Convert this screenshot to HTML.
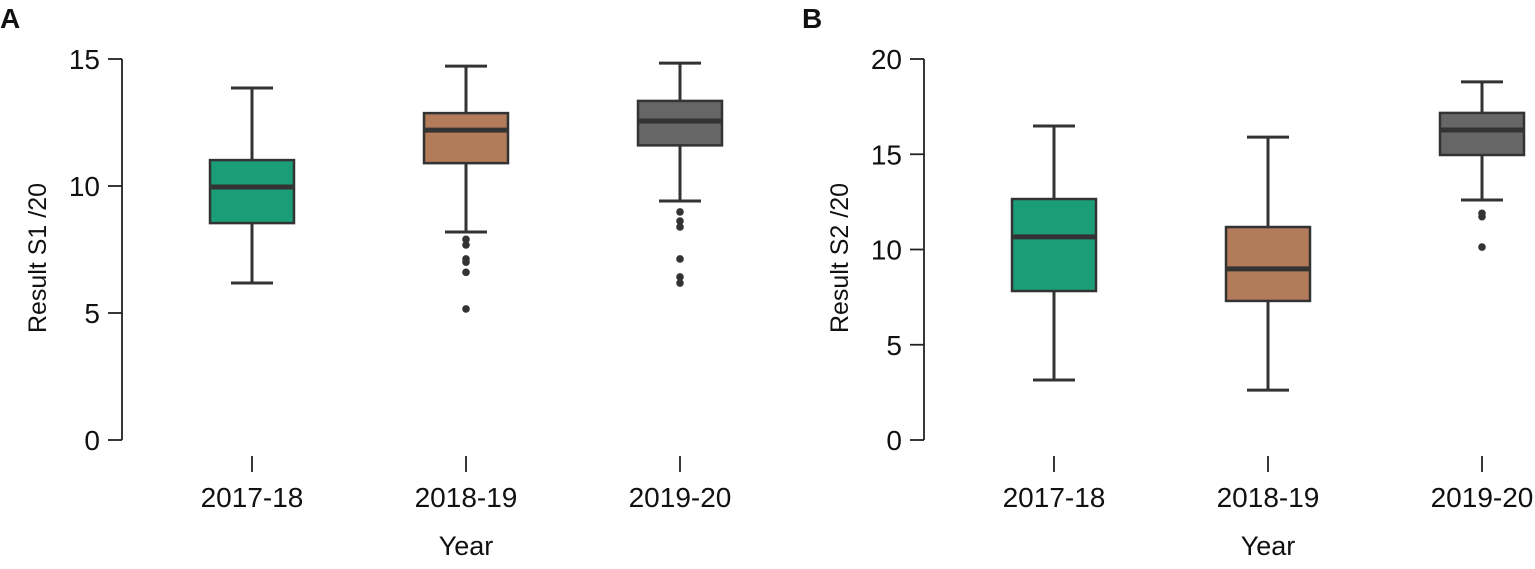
<!DOCTYPE html>
<html><head><meta charset="utf-8"><style>
body{margin:0;background:#fff;width:1535px;height:564px;overflow:hidden}
svg text{font-family:"Liberation Sans",Arial,sans-serif;fill:#111}
</style></head><body>
<svg id="c" width="1535" height="564" viewBox="0 0 1535 564"></svg>
<script>
const categories=["2017-18","2018-19","2019-20"];
const colors=["#1b9e77","#b27b59","#666666"];
const aStats=[[6.18,8.54,9.96,11.02,13.86],[8.19,10.9,12.2,12.87,14.72],[9.41,11.6,12.56,13.35,14.84]];
const aOut=[[],[7.9,7.68,7.13,7.0,6.6,5.16],[8.98,8.62,8.39,7.13,6.42,6.18]];
const aTicks=[0,5,10,15];
const bStats=[[3.15,7.82,10.66,12.65,16.48],[2.62,7.3,8.98,11.18,15.9],[12.6,14.96,16.27,17.17,18.8]];
const bOut=[[],[],[11.9,11.72,10.13]];
const bTicks=[0,5,10,15,20];
const NS="http://www.w3.org/2000/svg";
const svg=document.getElementById('c');
function mk(t,a,p){const e=document.createElementNS(NS,t);for(const k in a)e.setAttribute(k,a[k]);(p||svg).appendChild(e);return e;}
function panel(ox,max,stats,outs,ticks,letter,ytitle){
  const g=mk('g',{});
  
  
  const axX=ox, y=v=>440-v*(381/max), x=i=>ox+130+i*214;
  const ax=mk('line',{x1:axX,x2:axX,y1:y(0),y2:y(max),stroke:'#222','stroke-width':1.8},g);
  
  ticks.forEach(t=>{
    const l=mk('line',{x1:axX-14,x2:axX,y1:y(t),y2:y(t),stroke:'#222','stroke-width':1.8},g);
    
    const tx=mk('text',{x:axX-22,y:y(t)+10,'text-anchor':'end','font-size':28},g);tx.textContent=t;
    
  });
  categories.forEach((c,i)=>{
    const l=mk('line',{x1:x(i),x2:x(i),y1:456,y2:472,stroke:'#222','stroke-width':1.8},g);
    
    const tx=mk('text',{x:x(i),y:507,'text-anchor':'middle','font-size':28},g);tx.textContent=c;
    
    const s=stats[i],cx=x(i),st='#333';
    const bg=mk('g',{},g);
    mk('line',{x1:cx,x2:cx,y1:y(s[4]),y2:y(s[3]),stroke:st,'stroke-width':3},bg);
    mk('line',{x1:cx,x2:cx,y1:y(s[1]),y2:y(s[0]),stroke:st,'stroke-width':3},bg);
    mk('line',{x1:cx-21,x2:cx+21,y1:y(s[4]),y2:y(s[4]),stroke:st,'stroke-width':3},bg);
    mk('line',{x1:cx-21,x2:cx+21,y1:y(s[0]),y2:y(s[0]),stroke:st,'stroke-width':3},bg);
    mk('rect',{x:cx-42,y:y(s[3]),width:84,height:y(s[1])-y(s[3]),fill:colors[i],stroke:st,'stroke-width':2.5},bg);
    mk('line',{x1:cx-42,x2:cx+42,y1:y(s[2]),y2:y(s[2]),stroke:st,'stroke-width':5},bg);
    outs[i].forEach(o=>{const p=mk('circle',{cx:cx,cy:y(o),r:3.8,fill:'#333'},bg);
      });
  });
  const xt=mk('text',{x:x(1),y:555,'text-anchor':'middle','font-size':27},g);xt.textContent='Year';
  
  const yt=mk('text',{x:0,y:0,'text-anchor':'middle','font-size':25,transform:`translate(${ox-76},258) rotate(-90)`},g);yt.textContent=ytitle;
  
  const pl=mk('text',{x:ox-122,y:28,'font-size':28,'font-weight':'bold'},g);pl.textContent=letter;
  
}
panel(122,15,aStats,aOut,aTicks,'A','Result S1 /20');
panel(924,20,bStats,bOut,bTicks,'B','Result S2 /20');
</script>
</body></html>
